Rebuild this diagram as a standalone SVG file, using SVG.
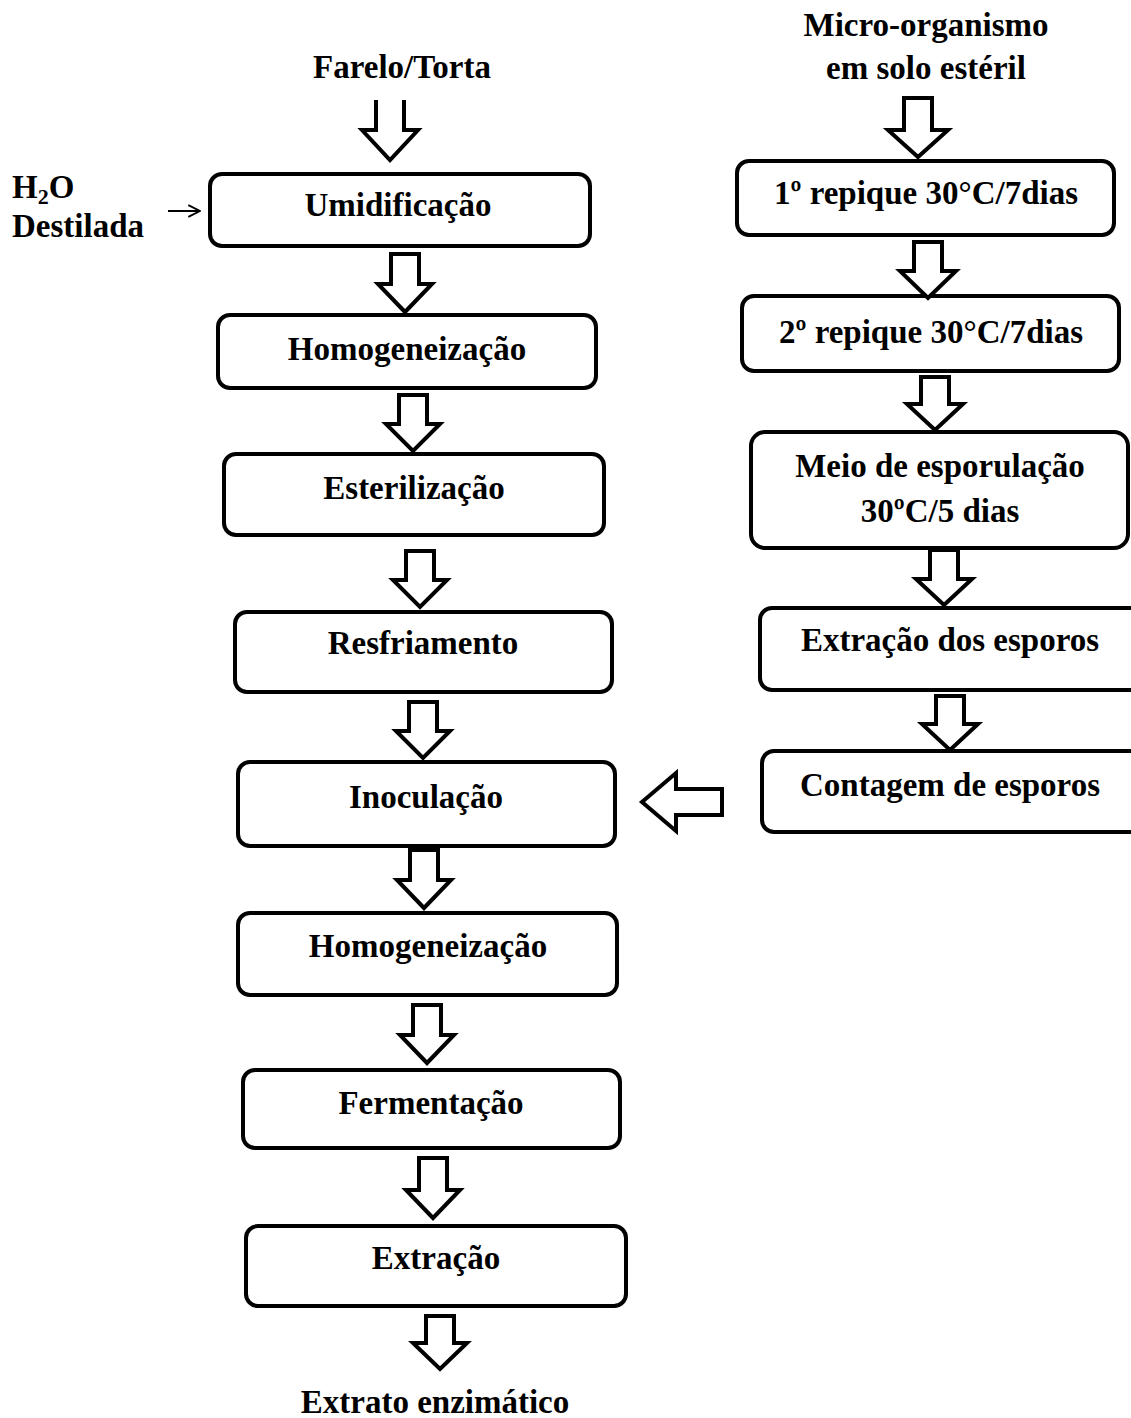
<svg xmlns="http://www.w3.org/2000/svg" width="1131" height="1418" viewBox="0 0 1131 1418">
<style>
.box{fill:#fff;stroke:#000;stroke-width:4;}
.arr{fill:#fff;stroke:#000;stroke-width:4;stroke-linejoin:miter;}
.t{font-family:"Liberation Serif","Times New Roman",serif;font-weight:bold;font-size:33px;fill:#000;text-anchor:middle;}
.tl{font-family:"Liberation Serif","Times New Roman",serif;font-weight:bold;font-size:33px;fill:#000;}
</style>
<defs>
<marker id="thin" viewBox="0 0 12 12" refX="11" refY="6" markerWidth="14" markerHeight="14" markerUnits="userSpaceOnUse" orient="auto"><path d="M1,1 L11,6 L1,11" fill="none" stroke="#000" stroke-width="1.6"/></marker>
</defs>
<rect width="1131" height="1418" fill="#fff"/>
<g id="labels">
<text class="t" x="402" y="78">Farelo/Torta</text>
<text class="t" x="926" y="36">Micro-organismo</text>
<text class="t" x="926" y="79">em solo estéril</text>
<text class="tl" x="12" y="198">H<tspan font-size="22" dy="6">2</tspan><tspan dy="-6">O</tspan></text>
<text class="tl" x="12" y="237">Destilada</text>
<text class="t" x="435" y="1413">Extrato enzimático</text>
</g>
<g id="n-umidificacao"><rect class="box" x="210" y="174" width="380" height="72" rx="12"/><text class="t" x="398" y="216">Umidificação</text></g>
<g id="n-homog1"><rect class="box" x="218" y="315" width="378" height="73" rx="12"/><text class="t" x="407" y="360">Homogeneização</text></g>
<g id="n-esterilizacao"><rect class="box" x="224" y="454" width="380" height="81" rx="12"/><text class="t" x="414" y="499">Esterilização</text></g>
<g id="n-resfriamento"><rect class="box" x="235" y="612" width="377" height="80" rx="12"/><text class="t" x="423" y="654">Resfriamento</text></g>
<g id="n-inoculacao"><rect class="box" x="238" y="762" width="377" height="84" rx="12"/><text class="t" x="426" y="808">Inoculação</text></g>
<g id="n-homog2"><rect class="box" x="238" y="913" width="379" height="82" rx="12"/><text class="t" x="428" y="957">Homogeneização</text></g>
<g id="n-fermentacao"><rect class="box" x="243" y="1070" width="377" height="78" rx="12"/><text class="t" x="431" y="1114">Fermentação</text></g>
<g id="n-extracao"><rect class="box" x="246" y="1226" width="380" height="80" rx="12"/><text class="t" x="436" y="1269">Extração</text></g>
<g id="n-repique1"><rect class="box" x="737" y="161" width="377" height="74" rx="12"/><text class="t" x="926" y="204">1º repique 30°C/7dias</text></g>
<g id="n-repique2"><rect class="box" x="742" y="296" width="377" height="75" rx="12"/><text class="t" x="931" y="343">2º repique 30°C/7dias</text></g>
<g id="n-meio"><rect class="box" x="751" y="432" width="377" height="116" rx="14"/><text class="t" x="940" y="477">Meio de esporulação</text><text class="t" x="940" y="522">30ºC/5 dias</text></g>
<g id="n-extesporos"><rect class="box" x="760" y="608" width="390" height="82" rx="12"/><text class="t" x="950" y="651">Extração dos esporos</text></g>
<g id="n-contagem"><rect class="box" x="762" y="751" width="390" height="81" rx="12"/><text class="t" x="950" y="796">Contagem de esporos</text></g>
<g id="connectors">
<path class="arr" d="M376,100 V130 H362 L390,160 L418,130 H404 V100" fill="none"/>
<line x1="168" y1="211" x2="200" y2="211" stroke="#000" stroke-width="2" marker-end="url(#thin)"/>
<path class="arr" d="M391,254 V284 H378 L405,312 L432,284 H419 V254 Z"/>
<path class="arr" d="M399,395 V424 H386 L413,451 L440,424 H427 V395 Z"/>
<path class="arr" d="M406,551 V580 H393 L420,607 L447,580 H434 V551 Z"/>
<path class="arr" d="M409,702 V731 H396 L423,758 L450,731 H437 V702 Z"/>
<path class="arr" d="M410,848 V880 H397 L424,908 L451,880 H438 V848 Z"/>
<rect x="410" y="846" width="28" height="6" fill="#000"/>
<path class="arr" d="M413,1005 V1035 H400 L427,1063 L454,1035 H441 V1005 Z"/>
<path class="arr" d="M419,1158 V1190 H406 L433,1218 L460,1190 H447 V1158 Z"/>
<path class="arr" d="M426,1316 V1343 H413 L440,1369 L467,1343 H454 V1316 Z"/>
<path class="arr" d="M904,98 V130 H888 L918,157 L948,130 H932 V98 Z"/>
<path class="arr" d="M914,242 V271 H900 L928,298 L956,271 H942 V242 Z"/>
<path class="arr" d="M921,377 V404 H907 L935,430 L963,404 H949 V377 Z"/>
<path class="arr" d="M930,550 V579 H916 L944,605 L972,579 H958 V550 Z"/>
<path class="arr" d="M936,696 V724 H922 L950,750 L978,724 H964 V696 Z"/>
<path class="arr" d="M722,789 H676 V773 L642,802 L676,831 V815 H722 Z"/>
</g>
</svg>
